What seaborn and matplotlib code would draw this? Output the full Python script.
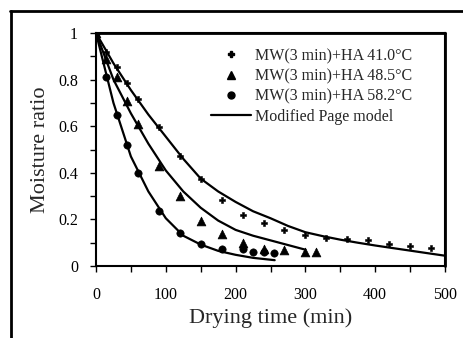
import pandas as pd
import numpy as np
import seaborn as sns
import matplotlib.pyplot as plt
from matplotlib.lines import Line2D

t_41 = [0, 15, 30, 45, 60, 90, 120, 150, 180, 210, 240, 270, 300, 330, 360, 390, 420, 450, 480]
mr_41 = [1.0, 0.92, 0.852, 0.785, 0.717, 0.598, 0.473, 0.372, 0.285, 0.221, 0.185, 0.156, 0.135,
         0.12, 0.115, 0.11, 0.095, 0.086, 0.077]

t_48 = [0, 15, 30, 45, 60, 90, 120, 150, 180, 210, 240, 270, 300, 315]
mr_48 = [1.0, 0.89, 0.81, 0.71, 0.61, 0.43, 0.30, 0.194, 0.136, 0.10, 0.075, 0.07, 0.06, 0.058]

t_58 = [0, 15, 30, 45, 60, 90, 120, 150, 180, 210, 225, 240, 255]
mr_58 = [1.0, 0.81, 0.65, 0.52, 0.40, 0.235, 0.14, 0.096, 0.075, 0.072, 0.06, 0.06, 0.055]

# Modified Page model curves
ft_41 = [0, 25, 50, 75, 100, 125, 150, 175, 200, 225, 250, 275, 300, 325, 350, 375, 400, 425, 450, 475, 505]
fmr_41 = [1.0, 0.87, 0.755, 0.65, 0.555, 0.46, 0.375, 0.32, 0.275, 0.235, 0.205, 0.172, 0.145,
          0.128, 0.113, 0.10, 0.088, 0.077, 0.066, 0.055, 0.042]

ft_48 = [0, 25, 50, 75, 100, 125, 150, 175, 200, 225, 250, 275, 300]
fmr_48 = [1.0, 0.80, 0.655, 0.525, 0.41, 0.32, 0.25, 0.195, 0.155, 0.13, 0.11, 0.09, 0.07]

ft_58 = [0, 25, 50, 75, 100, 125, 150, 175, 200, 225, 256]
fmr_58 = [1.0, 0.70, 0.47, 0.32, 0.205, 0.13, 0.092, 0.065, 0.048, 0.035, 0.025]

labels = ['MW(3 min)+HA 41.0°C', 'MW(3 min)+HA 48.5°C', 'MW(3 min)+HA 58.2°C']

sns.set_style('ticks')
plt.rcParams['font.family'] = ['Liberation Serif', 'DejaVu Serif']

fig = plt.figure(figsize=(4.63, 3.38), dpi=100)
left, right, top, bottom = 96/463, 445/463, 1 - 33/338, 1 - 266/338
ax = fig.add_axes([left, bottom, right - left, top - bottom])

# model curves
for ft, fmr in [(ft_41, fmr_41), (ft_48, fmr_48), (ft_58, fmr_58)]:
    sns.lineplot(x=ft, y=fmr, ax=ax, color='black', linewidth=1.6, sort=False, zorder=2)

# experimental points
sns.scatterplot(x=t_41, y=mr_41, ax=ax, marker='P', color='black', s=24, edgecolor='black', zorder=3)
sns.scatterplot(x=t_48, y=mr_48, ax=ax, marker='^', color='black', s=40, edgecolor='black', zorder=3)
sns.scatterplot(x=t_58, y=mr_58, ax=ax, marker='o', color='black', s=28, edgecolor='black', zorder=3)

ax.set_xlim(0, 500)
ax.set_ylim(0, 1)
ax.set_xticks(np.arange(0, 501, 100))
ax.set_xticks(np.arange(0, 501, 50), minor=True)
ax.set_yticks(np.arange(0, 1.01, 0.2))
ax.set_yticks(np.arange(0, 1.01, 0.1), minor=True)
ax.set_yticklabels(['0', '0.2', '0.4', '0.6', '0.8', '1'])
ax.tick_params(which='both', direction='out', length=4, width=1, colors='black')
ax.tick_params(axis='y', labelsize=11.5, pad=9)
ax.tick_params(axis='x', labelsize=11.5, pad=11)
for s in ax.spines.values():
    s.set_linewidth(1.5)
    s.set_edgecolor('black')

ax.set_xlabel('Drying time (min)', fontsize=16, labelpad=4)
ax.set_ylabel('Moisture ratio', fontsize=16, labelpad=6)

handles = [
    Line2D([], [], marker='P', color='black', linestyle='none', markersize=5),
    Line2D([], [], marker='^', color='black', linestyle='none', markersize=6),
    Line2D([], [], marker='o', color='black', linestyle='none', markersize=5),
    Line2D([], [], color='black', linewidth=1.6),
]
ax.legend(handles, labels + ['Modified Page model'], loc='upper left',
          bbox_to_anchor=(211/463, 1 - 48/338), bbox_transform=fig.transFigure,
          frameon=False, fontsize=11.5, handlelength=2.5, handletextpad=0.25,
          labelspacing=0.27, borderpad=0, borderaxespad=0)

# plot-area top and right edges
fig.add_artist(Line2D([left, right], [top, top], color='black', linewidth=2, transform=fig.transFigure))
fig.add_artist(Line2D([right, right], [bottom, top], color='black', linewidth=2, transform=fig.transFigure))

# outer frame lines
fig.add_artist(Line2D([10/463, 1], [1 - 11/338, 1 - 11/338], color='black', linewidth=2, transform=fig.transFigure))
fig.add_artist(Line2D([11/463, 11/463], [0, 1 - 11/338], color='black', linewidth=2, transform=fig.transFigure))

fig.savefig('out.png', dpi=100)
